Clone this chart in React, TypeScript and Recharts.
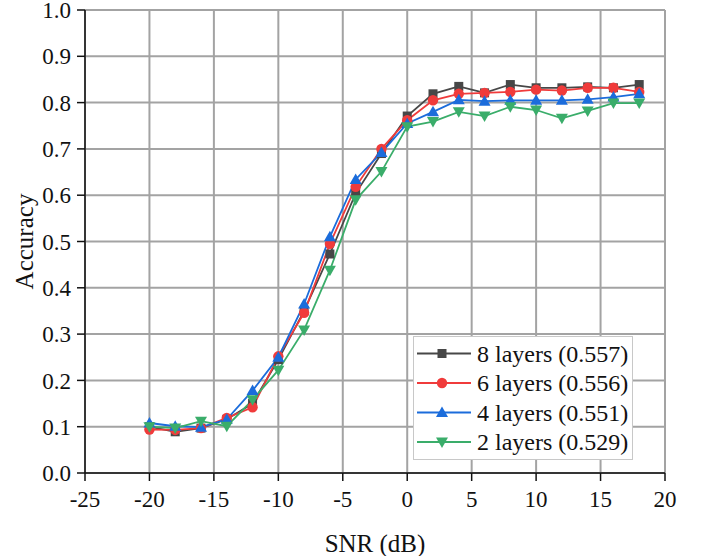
import { LineChart, Line, XAxis, YAxis, CartesianGrid } from 'recharts';

const snr = [-20, -18, -16, -14, -12, -10, -8, -6, -4, -2, 0, 2, 4, 6, 8, 10, 12, 14, 16, 18];
const layers8 = [0.1, 0.089, 0.097, 0.116, 0.15, 0.245, 0.35, 0.473, 0.604, 0.69, 0.771, 0.819, 0.835, 0.821, 0.839, 0.832, 0.832, 0.834, 0.832, 0.839];
const layers6 = [0.094, 0.093, 0.097, 0.119, 0.142, 0.252, 0.346, 0.495, 0.618, 0.7, 0.762, 0.805, 0.819, 0.821, 0.823, 0.828, 0.826, 0.832, 0.832, 0.823];
const layers4 = [0.108, 0.101, 0.099, 0.116, 0.178, 0.25, 0.365, 0.51, 0.634, 0.692, 0.755, 0.78, 0.806, 0.803, 0.805, 0.805, 0.805, 0.807, 0.812, 0.819];
const layers2 = [0.1, 0.097, 0.112, 0.101, 0.158, 0.222, 0.309, 0.438, 0.59, 0.651, 0.748, 0.759, 0.78, 0.771, 0.791, 0.784, 0.766, 0.782, 0.799, 0.799];

const xTicks = [-25, -20, -15, -10, -5, 0, 5, 10, 15, 20];
const yTicks = [0, 0.1, 0.2, 0.3, 0.4, 0.5, 0.6, 0.7, 0.8, 0.9, 1.0];

const series = [
  { key: 'l8', name: '8 layers (0.557)', color: '#474747', shape: 'square', values: layers8 },
  { key: 'l6', name: '6 layers (0.556)', color: '#F03B3B', shape: 'circle', values: layers6 },
  { key: 'l4', name: '4 layers (0.551)', color: '#1B6CDB', shape: 'up', values: layers4 },
  { key: 'l2', name: '2 layers (0.529)', color: '#3AAD6A', shape: 'down', values: layers2 },
];

const data = snr.map((x, i) => {
  const row: Record<string, number> = { snr: x };
  series.forEach((s) => (row[s.key] = s.values[i]));
  return row;
});

const FONT = '"Liberation Serif", "Times New Roman", serif';

function Marker({ shape, cx, cy, color }: { shape: string; cx: number; cy: number; color: string }) {
  if (shape === 'square') return <rect x={cx - 4.5} y={cy - 4.5} width={9} height={9} fill={color} />;
  if (shape === 'circle') return <circle cx={cx} cy={cy} r={5.2} fill={color} />;
  if (shape === 'up')
    return <polygon points={`${cx},${cy - 6} ${cx - 6},${cy + 4.5} ${cx + 6},${cy + 4.5}`} fill={color} />;
  return <polygon points={`${cx},${cy + 6} ${cx - 6},${cy - 4.5} ${cx + 6},${cy - 4.5}`} fill={color} />;
}

// legend drawn as an overlay so it doesn't eat chart height
function LegendBox() {
  return (
    <div
      style={{
        position: 'absolute',
        left: 413,
        top: 336,
        width: 220,
        height: 124,
        border: '1.5px solid #c8c8c8',
        background: '#fff',
        boxSizing: 'border-box',
      }}
    >
      <svg width={218} height={122} style={{ display: 'block' }}>
        {series.map((s, i) => {
          const y = 16.5 + i * 29.5;
          return (
            <g key={s.key}>
              <line x1={3} x2={57} y1={y} y2={y} stroke={s.color} strokeWidth={2} />
              <Marker shape={s.shape} cx={28} cy={y} color={s.color} />
              <text x={63} y={y} dominantBaseline="central" fontFamily={FONT} fontSize={24} fill="#111">
                {s.name}
              </text>
            </g>
          );
        })}
      </svg>
    </div>
  );
}

export default function App() {
  return (
    <div style={{ position: 'absolute', left: 0, top: 0, width: 701, height: 556 }}>
      <LineChart width={701} height={556} data={data} margin={{ top: 10, right: 36, bottom: 0, left: 0 }}>
        <CartesianGrid xAxisId="b" yAxisId="l" stroke="#a3a3a3" strokeWidth={2} />
        <XAxis
          xAxisId="b"
          dataKey="snr"
          type="number"
          domain={[-25, 20]}
          ticks={xTicks}
          interval={0}
          height={83}
          tickSize={8}
          tickMargin={10}
          stroke="#111"
          strokeWidth={1.5}
          tick={{ fill: '#111', fontFamily: FONT, fontSize: 23 }}
          label={{ value: 'SNR (dB)', position: 'insideBottom', offset: 4, fill: '#111', fontFamily: FONT, fontSize: 25 }}
        />
        <XAxis
          xAxisId="t"
          dataKey="snr"
          type="number"
          orientation="top"
          domain={[-25, 20]}
          ticks={xTicks}
          interval={0}
          height={0}
          mirror
          tickSize={6}
          stroke="#111"
          strokeWidth={1.5}
          tickFormatter={() => ''}
        />
        <YAxis
          yAxisId="l"
          domain={[0, 1]}
          ticks={yTicks}
          interval={0}
          width={85}
          tickSize={8}
          tickMargin={6}
          stroke="#111"
          strokeWidth={1.5}
          tickFormatter={(v: number) => v.toFixed(1)}
          tick={{ fill: '#111', fontFamily: FONT, fontSize: 23 }}
          label={{
            content: ({ viewBox }: any) => (
              <text
                x={viewBox.x + 24}
                y={viewBox.y + viewBox.height / 2}
                transform={`rotate(-90 ${viewBox.x + 24} ${viewBox.y + viewBox.height / 2})`}
                textAnchor="middle"
                dominantBaseline="central"
                fontFamily={FONT}
                fontSize={25}
                fill="#111"
              >
                Accuracy
              </text>
            ),
          }}
        />
        <YAxis
          yAxisId="r"
          orientation="right"
          domain={[0, 1]}
          ticks={yTicks}
          interval={0}
          width={0}
          mirror
          tickSize={7}
          stroke="#111"
          strokeWidth={1.5}
          tickFormatter={() => ''}
        />
        {series.map((s) => (
          <Line
            key={s.key}
            xAxisId="b"
            yAxisId="l"
            dataKey={s.key}
            name={s.name}
            type="linear"
            stroke={s.color}
            strokeWidth={1.8}
            isAnimationActive={false}
            dot={(p: any) => <Marker key={`${s.key}-${p.index}`} shape={s.shape} cx={p.cx} cy={p.cy} color={s.color} />}
            activeDot={false}
          />
        ))}
      </LineChart>
      <LegendBox />
    </div>
  );
}
